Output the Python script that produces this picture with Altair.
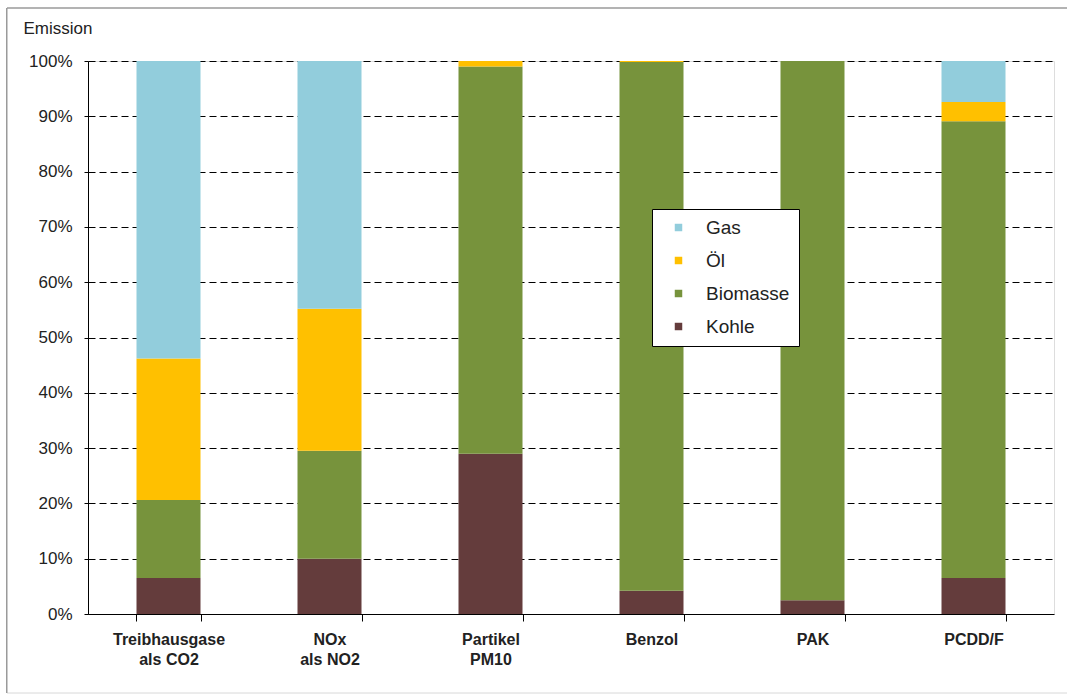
import altair as alt
import pandas as pd

# Emission shares by source (percent of each pollutant)
categories = ["Treibhausgase|als CO2", "NOx|als NO2", "Partikel|PM10", "Benzol", "PAK", "PCDD/F"]
sources = ["Gas", "Öl", "Biomasse", "Kohle"]
kohle = [6.5, 10.0, 29.0, 4.2, 2.5, 6.5]
biomasse = [14.1, 19.5, 70.0, 95.6, 97.5, 82.6]
oel = [25.6, 25.7, 1.0, 0.2, 0.0, 3.5]
gas = [53.8, 44.8, 0.0, 0.0, 0.0, 7.4]
colors = ["#92CDDC", "#FFC000", "#77933C", "#643C3C"]
y_ticks = [0, 10, 20, 30, 40, 50, 60, 70, 80, 90, 100]

series = {"Kohle": kohle, "Biomasse": biomasse, "Öl": oel, "Gas": gas}
stack_rank = {"Kohle": 0, "Biomasse": 1, "Öl": 2, "Gas": 3}
rows = []
for src, vals in series.items():
    for cat, v in zip(categories, vals):
        rows.append({"Kategorie": cat, "Quelle": src, "Anteil": v, "rank": stack_rank[src]})
df = pd.DataFrame(rows)

W, H = 966, 553
FONT = "Liberation Sans"
TEXT = "#222222"

bars = alt.Chart(df).mark_bar(size=64).encode(
    x=alt.X(
        "Kategorie:N",
        sort=categories,
        title=None,
        scale=alt.Scale(paddingInner=0.6, paddingOuter=0.3),
        axis=alt.Axis(
            labelAngle=0,
            labelExpr="split(datum.label, '|')",
            labelFont=FONT,
            labelFontSize=16,
            labelFontWeight="bold",
            labelColor=TEXT,
            labelPadding=10,
            labelLineHeight=20,
            tickBand="extent",
            tickSize=7,
            tickColor="#000000",
            domainColor="#000000",
            grid=False,
        ),
    ),
    y=alt.Y(
        "Anteil:Q",
        stack="zero",
        scale=alt.Scale(domain=[0, 100], nice=False),
        axis=alt.Axis(
            values=y_ticks,
            labelExpr="datum.value + '%'",
            labelFont=FONT,
            labelFontSize=17,
            labelColor=TEXT,
            labelPadding=12,
            tickSize=4,
            tickColor="#000000",
            domainColor="#000000",
            grid=True,
            gridColor="#000000",
            gridDash=[7, 4],
            gridWidth=1,
            title="Emission",
            titleAngle=0,
            titleAlign="left",
            titleBaseline="alphabetic",
            titleX=-65,
            titleY=-28,
            titleFont=FONT,
            titleFontSize=17,
            titleFontWeight="normal",
            titleColor=TEXT,
        ),
    ),
    color=alt.Color(
        "Quelle:N",
        scale=alt.Scale(domain=sources, range=colors),
        legend=alt.Legend(
            title=None,
            orient="none",
            legendX=564,
            legendY=148,
            direction="vertical",
            symbolType="square",
            symbolSize=56,
            symbolStrokeWidth=0,
            symbolOffset=8,
            labelFont=FONT,
            labelFontSize=19,
            labelColor=TEXT,
            labelOffset=18,
            rowPadding=13,
            padding=9,
            strokeColor="#000000",
            fillColor="#ffffff",
        ),
    ),
    order=alt.Order("rank:Q", sort="ascending"),
)

# light grey frame: lines along the top and bottom, thin strip on the left
one = pd.DataFrame({"k": [0]})
frame_top = alt.Chart(one).mark_rule(color="#9a9a9a", strokeWidth=1.5).encode(
    x=alt.value(-81), x2=alt.value(W + 13), y=alt.value(-53)
)
frame_bottom = alt.Chart(one).mark_rule(color="#d8d8d8", strokeWidth=1).encode(
    x=alt.value(-81), x2=alt.value(W + 13), y=alt.value(632)
)
frame_left = alt.Chart(one).mark_rect(color="#9a9a9a").encode(
    x=alt.value(-82), x2=alt.value(-80.5), y=alt.value(-53), y2=alt.value(632)
)

chart = alt.layer(frame_top, frame_bottom, frame_left, bars).properties(
    width=W,
    height=H,
    autosize=alt.AutoSizeParams(type="none"),
    padding={"left": 88, "top": 61, "right": 13, "bottom": 82},
).configure_view(stroke=None).configure(background="#ffffff")

chart.save("out.html", embed_options={"renderer": "svg", "actions": False})
